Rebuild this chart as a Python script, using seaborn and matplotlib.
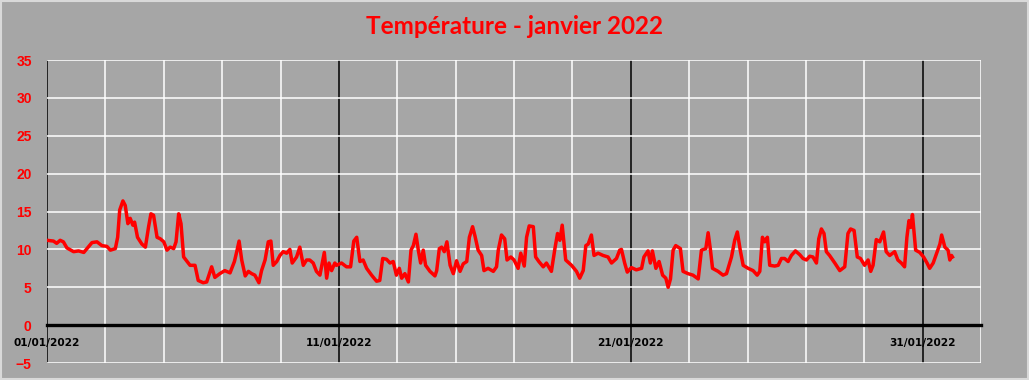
import matplotlib
matplotlib.use('Agg')
import matplotlib.pyplot as plt
import matplotlib.dates as mdates
import matplotlib.ticker as mticker
from matplotlib.patches import Rectangle
import pandas as pd
import seaborn as sns

# values: days since 01/01/2022 00:00 and temperature (°C)
days = [0.0, 0.22, 0.33, 0.45, 0.56, 0.68, 0.91, 1.08, 1.26, 1.54, 1.71, 1.88,
        2.05, 2.17, 2.34, 2.42, 2.49, 2.60, 2.68, 2.77, 2.85, 2.94, 3.00, 3.10,
        3.25, 3.37, 3.48, 3.56, 3.65, 3.77, 3.88, 4.00, 4.11, 4.22, 4.34, 4.42,
        4.51, 4.59, 4.68, 4.80, 4.90, 5.07, 5.18, 5.35, 5.47, 5.64, 5.75, 5.92,
        6.09, 6.27, 6.42, 6.50, 6.58, 6.67, 6.79, 6.90, 7.01, 7.12, 7.26, 7.35,
        7.47, 7.58, 7.67, 7.75, 7.87, 7.98, 8.09, 8.21, 8.32, 8.40, 8.55, 8.66,
        8.78, 8.89, 9.00, 9.12, 9.23, 9.35, 9.43, 9.50, 9.58, 9.66, 9.75, 9.86,
        9.92, 10.09, 10.26, 10.40, 10.51, 10.61, 10.72, 10.83, 10.95, 11.12,
        11.29, 11.40, 11.50, 11.63, 11.75, 11.86, 11.97, 12.07, 12.15, 12.26,
        12.38, 12.47, 12.55, 12.64, 12.72, 12.80, 12.89, 12.97, 13.12, 13.29,
        13.35, 13.44, 13.52, 13.61, 13.70, 13.81, 13.92, 14.03, 14.15, 14.26,
        14.38, 14.47, 14.58, 14.66, 14.77, 14.89, 14.97, 15.11, 15.29, 15.40,
        15.46, 15.57, 15.68, 15.76, 15.89, 16.00, 16.14, 16.23, 16.35, 16.43,
        16.52, 16.66, 16.74, 16.85, 17.00, 17.11, 17.28, 17.40, 17.49, 17.57,
        17.65, 17.77, 17.97, 18.14, 18.25, 18.37, 18.46, 18.54, 18.65, 18.74,
        18.88, 19.05, 19.22, 19.34, 19.51, 19.62, 19.68, 19.79, 19.88, 20.02,
        20.19, 20.37, 20.45, 20.59, 20.67, 20.74, 20.86, 20.97, 21.09, 21.20,
        21.28, 21.36, 21.45, 21.54, 21.62, 21.70, 21.79, 21.96, 22.13, 22.31,
        22.42, 22.57, 22.65, 22.73, 22.80, 22.99, 23.16, 23.28, 23.45, 23.56,
        23.65, 23.75, 23.85, 24.02, 24.19, 24.33, 24.42, 24.51, 24.59, 24.68,
        24.76, 24.93, 25.05, 25.16, 25.27, 25.39, 25.50, 25.64, 25.79, 25.90,
        26.02, 26.13, 26.24, 26.36, 26.44, 26.53, 26.62, 26.70, 26.81, 26.99,
        27.16, 27.33, 27.44, 27.53, 27.65, 27.76, 27.87, 28.01, 28.13, 28.22,
        28.30, 28.41, 28.53, 28.66, 28.75, 28.87, 29.04, 29.15, 29.27, 29.38,
        29.46, 29.53, 29.59, 29.65, 29.70, 29.76, 29.90, 30.03, 30.15, 30.24,
        30.36, 30.48, 30.59, 30.65, 30.76, 30.87, 30.93, 30.99, 31.02]

temps = [11.2, 11.1, 10.8, 11.2, 11.0, 10.2, 9.7, 9.8, 9.6, 10.9, 11.0, 10.5,
         10.4, 9.9, 10.1, 11.6, 15.2, 16.4, 15.8, 13.4, 14.1, 13.2, 13.6, 11.6,
         10.7, 10.3, 13.0, 14.7, 14.5, 11.6, 11.4, 11.0, 9.9, 10.3, 10.1, 11.0,
         14.7, 13.4, 9.0, 8.4, 7.9, 7.9, 5.9, 5.6, 5.7, 7.7, 6.3, 6.8,
         7.2, 6.9, 8.4, 9.7, 11.1, 8.6, 6.5, 7.1, 6.8, 6.6, 5.6, 7.2,
         8.6, 11.0, 11.1, 7.9, 8.4, 9.2, 9.7, 9.5, 10.0, 8.2, 9.0, 10.3,
         7.9, 8.6, 8.6, 8.2, 7.1, 6.6, 8.2, 9.6, 6.2, 8.2, 7.2, 8.2,
         7.9, 8.2, 7.7, 7.7, 11.1, 11.6, 8.4, 8.6, 7.5, 6.6,
         5.8, 5.9, 8.8, 8.7, 8.2, 8.4, 6.6, 7.5, 6.2, 6.8,
         5.7, 9.9, 10.5, 12.0, 9.9, 8.2, 9.9, 7.9, 7.1, 6.5,
         7.2, 10.1, 10.3, 9.7, 11.0, 7.9, 6.8, 8.5, 7.1, 8.1,
         8.4, 11.6, 13.0, 11.8, 9.9, 9.2, 7.2, 7.5, 7.1, 7.7,
         9.9, 11.9, 11.4, 8.6, 9.0, 8.6, 7.5, 9.5, 7.8, 11.6,
         13.1, 13.0, 9.0, 8.4, 7.7, 8.2, 7.1, 10.1, 12.1, 11.2,
         13.2, 8.6, 7.9, 7.1, 6.2, 7.2, 10.5, 10.7, 11.9, 9.2,
         9.5, 9.2, 9.0, 8.2, 8.8, 9.9, 10.0, 8.2, 7.0, 7.6,
         7.3, 7.5, 9.0, 9.8, 8.2, 9.8, 7.5, 8.4, 6.6, 6.2,
         5.0, 6.1, 9.9, 10.5, 10.3, 10.1, 7.1, 6.8, 6.6, 6.1,
         9.9, 10.1, 12.2, 9.9, 7.5, 7.1, 6.6, 6.8, 9.0, 11.2,
         12.3, 9.9, 7.9, 7.5, 7.2, 6.6, 7.1, 11.6, 11.0, 11.6,
         7.9, 7.8, 7.9, 8.8, 8.8, 8.4, 9.2, 9.8, 9.3, 8.8,
         8.6, 9.1, 9.0, 8.2, 11.4, 12.7, 12.1, 9.7, 9.2, 8.2,
         7.2, 7.7, 12.1, 12.7, 12.5, 9.0, 8.8, 7.9, 8.6, 7.1,
         7.9, 11.3, 11.0, 12.3, 9.7, 9.2, 9.7, 8.6, 8.2, 7.7,
         11.6, 13.8, 12.9, 14.6, 12.5, 9.9, 9.6, 9.0, 8.2, 7.5,
         8.2, 9.5, 10.7, 11.9, 10.3, 9.9, 8.6, 9.2, 9.0]

start = '2022-01-01'
end = '2022-02-02'
label_dates = ['2022-01-01', '2022-01-11', '2022-01-21', '2022-01-31']
y_ticks = [-5, 0, 5, 10, 15, 20, 25, 30, 35]
title = 'Température - janvier 2022'

BG = '#A6A6A6'


def main():
    # every text on this chart is bold
    plt.rcParams['font.weight'] = 'bold'

    df = pd.DataFrame({'Date': pd.Timestamp(start) + pd.to_timedelta(days, unit='D'),
                       'Temp': temps})

    fig = plt.figure(figsize=(10.29, 3.80), dpi=100, facecolor=BG)
    ax = fig.add_axes([0.0457, 0.0447, 0.9077, 0.7973])
    ax.set_facecolor(BG)

    # light border around the whole picture
    fig.patches.append(Rectangle((0.001, 0.002), 0.998, 0.995, transform=fig.transFigure,
                                 fill=False, edgecolor='#D9D9D9', linewidth=1.5))

    sns.lineplot(data=df, x='Date', y='Temp', ax=ax, color='#FF0000',
                 linewidth=2.5, zorder=5)

    ax.set_xlim(pd.Timestamp(start), pd.Timestamp(end))
    ax.set_ylim(-5, 35)
    ax.set_xlabel('')
    ax.set_ylabel('')

    # x axis: labelled black lines every 10 days, white grid every 2 days
    ax.xaxis.set_major_locator(mticker.FixedLocator(mdates.date2num(pd.to_datetime(label_dates))))
    ax.xaxis.set_minor_locator(mticker.FixedLocator(
        mdates.date2num(pd.date_range(start, end, freq='2D'))))
    ax.xaxis.set_major_formatter(mdates.DateFormatter('%d/%m/%Y'))
    ax.xaxis.grid(True, which='major', color='black', linewidth=1.1)
    ax.xaxis.grid(True, which='minor', color='white', linewidth=1.1)

    ax.set_yticks(y_ticks)
    ax.yaxis.grid(True, which='major', color='white', linewidth=1.1)
    ax.set_axisbelow(True)

    ax.tick_params(axis='x', which='both', length=0, pad=9, colors='black',
                   labelsize=7.6)
    ax.tick_params(axis='y', length=0, pad=11, colors='#FF0000', labelsize=10,
                   labelfontfamily='Liberation Sans')

    # axis line at 0
    for side in ['top', 'right', 'left']:
        ax.spines[side].set_visible(False)
    ax.spines['bottom'].set_position(('data', 0))
    ax.spines['bottom'].set_color('black')
    ax.spines['bottom'].set_linewidth(2.4)
    ax.spines['bottom'].set_zorder(4)

    fig.text(0.5, 0.929, title, ha='center', va='center', color='#FF0000',
             fontsize=17.5, fontweight='bold', family='Lato')

    fig.savefig('out.png', dpi=100, facecolor=BG)


if __name__ == '__main__':
    main()
